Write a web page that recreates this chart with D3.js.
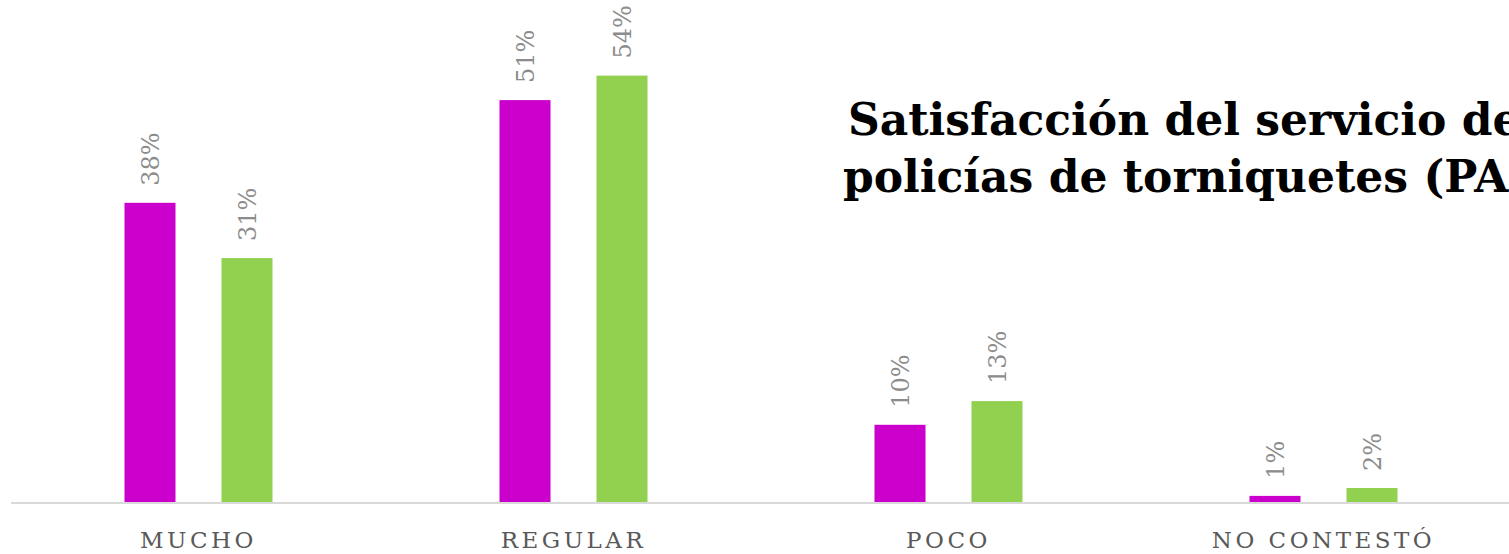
<!DOCTYPE html>
<html>
<head>
<meta charset="utf-8">
<script src="https://cdn.jsdelivr.net/npm/d3@7"></script>
<style>
  html, body { margin: 0; padding: 0; background: #fff; overflow: hidden; }
  svg { display: block; }
</style>
</head>
<body>
<svg id="chart" width="1509" height="554"></svg>
<script>
const categories = ["MUCHO", "REGULAR", "POCO", "NO CONTESTÓ"];
const seriesNames = ["Serie 1", "Serie 2"];
const series1 = [38.0, 51.0, 9.9, 0.9];
const series2 = [31.0, 54.1, 12.9, 1.9];
const valueLabels1 = ["38%", "51%", "10%", "1%"];
const valueLabels2 = ["31%", "54%", "13%", "2%"];
const colors = ["#CC00CC", "#92D050"];
const titleLines = ["Satisfacción del servicio de", "policías de torniquetes (PA"];

const W = 1509, H = 554;
const svg = d3.select("#chart");
const serif = "'DejaVu Serif', 'Liberation Serif', serif";

const x = d3.scaleBand().domain(categories).range([11, 1511]).paddingInner(0).paddingOuter(0);
const xs = d3.scaleBand().domain(seriesNames)
  .range([x.bandwidth()/2 - 74, x.bandwidth()/2 + 74])
  .paddingInner(46/97).paddingOuter(0);
const y = d3.scaleLinear().domain([0, 60]).range([503, 29]);

const data = categories.map((c, i) => ({
  cat: c,
  vals: [
    {s: seriesNames[0], v: series1[i], label: valueLabels1[i], color: colors[0]},
    {s: seriesNames[1], v: series2[i], label: valueLabels2[i], color: colors[1]}
  ]
}));

const groups = svg.selectAll("g.grp").data(data).join("g")
  .attr("class", "grp")
  .attr("transform", d => `translate(${x(d.cat)},0)`);

groups.selectAll("rect").data(d => d.vals).join("rect")
  .attr("x", d => xs(d.s))
  .attr("width", xs.bandwidth())
  .attr("y", d => y(d.v))
  .attr("height", d => y(0) - y(d.v))
  .attr("fill", d => d.color);

groups.selectAll("text.val").data(d => d.vals).join("text")
  .attr("class", "val")
  .attr("transform", d => `translate(${xs(d.s) + xs.bandwidth()/2 + 9},${y(d.v) - 17}) rotate(-90)`)
  .attr("text-anchor", "start")
  .attr("font-family", serif)
  .attr("font-size", 24)
  .attr("fill", "#8C8C8C")
  .text(d => d.label);

// axis baseline
const xAxis = d3.axisBottom(x).tickSize(0).tickPadding(0);
const ax = svg.append("g").attr("transform", `translate(0,${y(0)})`).call(xAxis);
ax.select(".domain").attr("stroke", "#D9D9D9").attr("stroke-width", 2).attr("d", `M11,0H1509`);
ax.selectAll(".tick text")
  .attr("dy", 0)
  .attr("y", 45)
  .attr("font-family", serif)
  .attr("font-size", 23)
  .attr("letter-spacing", "3.5px")
  .attr("fill", "#595959");

// title
const title = svg.append("g");
title.selectAll("text").data(titleLines).join("text")
  .attr("x", (d, i) => i === 0 ? 848 : 843)
  .attr("y", (d, i) => 135 + i * 57)
  .attr("font-family", serif)
  .attr("font-weight", "bold")
  .attr("font-size", 44)
  .attr("fill", "#000")
  .text(d => d);
</script>
</body>
</html>
